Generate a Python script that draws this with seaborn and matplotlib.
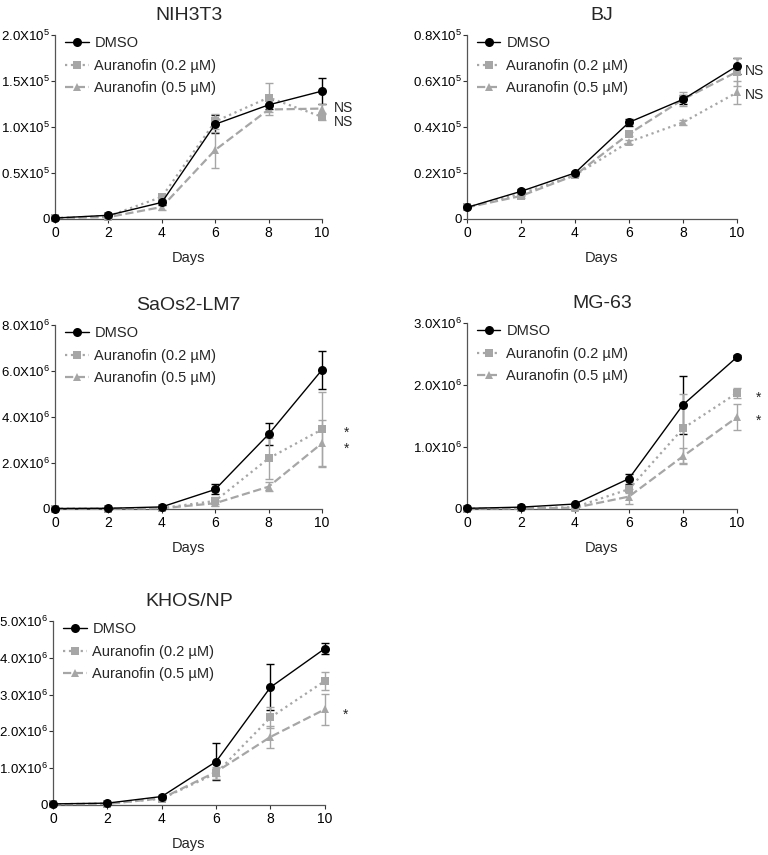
import numpy as np
import pandas as pd
import matplotlib
matplotlib.use("Agg")
import matplotlib.pyplot as plt
from matplotlib.ticker import FuncFormatter, FixedLocator
import seaborn as sns

sns.set_style("ticks")
plt.rcParams['font.family'] = ['Liberation Sans', 'DejaVu Sans']
plt.rcParams['mathtext.fontset'] = 'custom'
plt.rcParams['mathtext.rm'] = 'Liberation Sans'
plt.rcParams['mathtext.it'] = 'Liberation Sans:italic'

days = [0, 2, 4, 6, 8, 10]
treatments = ["DMSO", "Auranofin (0.2 µM)", "Auranofin (0.5 µM)"]

# NIH3T3 (x1e5)
nih_dmso = [0.01, 0.04, 0.18, 1.03, 1.24, 1.39]
nih_dmso_err = [0.005, 0.01, 0.03, 0.10, 0.05, 0.14]
nih_02 = [0.01, 0.03, 0.24, 1.06, 1.32, 1.11]
nih_02_err = [0.005, 0.01, 0.03, 0.08, 0.16, 0.03]
nih_05 = [0.01, 0.02, 0.13, 0.75, 1.19, 1.20]
nih_05_err = [0.005, 0.01, 0.03, 0.20, 0.06, 0.05]

# BJ (x1e5)
bj_dmso = [0.05, 0.12, 0.20, 0.42, 0.52, 0.665]
bj_dmso_err = [0.003, 0.01, 0.005, 0.015, 0.02, 0.035]
bj_02 = [0.05, 0.10, 0.19, 0.37, 0.52, 0.64]
bj_02_err = [0.003, 0.008, 0.005, 0.01, 0.03, 0.06]
bj_05 = [0.05, 0.11, 0.19, 0.335, 0.42, 0.55]
bj_05_err = [0.003, 0.008, 0.005, 0.01, 0.01, 0.05]

# SaOs2-LM7 (x1e6)
sa_dmso = [0.02, 0.03, 0.09, 0.85, 3.25, 6.05]
sa_dmso_err = [0.01, 0.01, 0.03, 0.22, 0.47, 0.83]
sa_02 = [0.01, 0.01, 0.04, 0.35, 2.20, 3.46]
sa_02_err = [0.01, 0.01, 0.02, 0.15, 0.90, 1.62]
sa_05 = [0.01, 0.01, 0.03, 0.25, 0.97, 2.86]
sa_05_err = [0.01, 0.01, 0.02, 0.12, 0.20, 1.00]

# MG-63 (x1e6)
mg_dmso = [0.01, 0.03, 0.08, 0.49, 1.68, 2.45]
mg_dmso_err = [0.005, 0.01, 0.01, 0.08, 0.47, 0.03]
mg_02 = [0.005, 0.01, 0.03, 0.32, 1.30, 1.87]
mg_02_err = [0.005, 0.01, 0.01, 0.06, 0.56, 0.08]
mg_05 = [0.005, 0.01, 0.02, 0.20, 0.85, 1.48]
mg_05_err = [0.005, 0.01, 0.01, 0.12, 0.13, 0.21]

# KHOS/NP (x1e6)
kh_dmso = [0.03, 0.05, 0.23, 1.18, 3.20, 4.25]
kh_dmso_err = [0.01, 0.02, 0.03, 0.50, 0.62, 0.16]
kh_02 = [0.02, 0.04, 0.17, 0.86, 2.38, 3.37]
kh_02_err = [0.01, 0.02, 0.03, 0.15, 0.28, 0.25]
kh_05 = [0.02, 0.03, 0.18, 0.90, 1.85, 2.60]
kh_05_err = [0.01, 0.02, 0.03, 0.12, 0.30, 0.42]

panels = [
    dict(title="NIH3T3", exp=5, ymax=2.0, ystep=0.5, rect=[0.0716, 0.7439, 0.3477, 0.2152],
         vals=[nih_dmso, nih_02, nih_05], errs=[nih_dmso_err, nih_02_err, nih_05_err],
         styles=['-', ':', '--'], notes=[("NS", 10.45, 1.21), ("NS", 10.45, 1.05)]),
    dict(title="BJ", exp=5, ymax=0.8, ystep=0.2, rect=[0.608, 0.7439, 0.3516, 0.2152],
         vals=[bj_dmso, bj_02, bj_05], errs=[bj_dmso_err, bj_02_err, bj_05_err],
         styles=['-', '--', ':'], notes=[("NS", 10.3, 0.643), ("NS", 10.3, 0.54)]),
    dict(title="SaOs2-LM7", exp=6, ymax=8.0, ystep=2.0, rect=[0.0716, 0.4047, 0.3477, 0.2152],
         vals=[sa_dmso, sa_02, sa_05], errs=[sa_dmso_err, sa_02_err, sa_05_err],
         styles=['-', ':', '--'], notes=[("*", 10.8, 3.3), ("*", 10.8, 2.6)]),
    dict(title="MG-63", exp=6, ymax=3.0, ystep=1.0, rect=[0.608, 0.4047, 0.3516, 0.2175],
         vals=[mg_dmso, mg_02, mg_05], errs=[mg_dmso_err, mg_02_err, mg_05_err],
         styles=['-', ':', '--'], notes=[("*", 10.7, 1.80), ("*", 10.7, 1.42)]),
    dict(title="KHOS/NP", exp=6, ymax=5.0, ystep=1.0, rect=[0.069, 0.0585, 0.354, 0.2152],
         vals=[kh_dmso, kh_02, kh_05], errs=[kh_dmso_err, kh_02_err, kh_05_err],
         styles=['-', ':', '--'], notes=[("*", 10.66, 2.45)]),
]

colors = ["black", "#a6a6a6", "#a6a6a6"]
markers = ["o", "s", "^"]
legend_styles = ['-', ':', '--']

fig = plt.figure(figsize=(7.68, 8.55), dpi=100)

for p in panels:
    ax = fig.add_axes(p["rect"])
    scale = 10 ** p["exp"]
    for i, name in enumerate(treatments):
        v = np.array(p["vals"][i]) * scale
        e = np.array(p["errs"][i]) * scale
        ax.errorbar(days, v, yerr=e, fmt='none', ecolor=colors[i], elinewidth=1.0,
                    capsize=3, capthick=1.0, zorder=2, clip_on=False)
        df = pd.DataFrame({"Days": days, "Cells": v})
        sns.lineplot(data=df, x="Days", y="Cells", ax=ax, color=colors[i],
                     marker=markers[i], markersize=6.5 if i == 0 else 6,
                     markeredgewidth=0, linestyle=p["styles"][i],
                     linewidth=1.0 if i == 0 else 1.6, clip_on=False,
                     zorder=5 - i, legend=False)
    handles = [plt.Line2D([], [], color=colors[i], marker=markers[i], markersize=6.5 if i == 0 else 6,
                          markeredgewidth=0, linestyle=legend_styles[i],
                          linewidth=1.0 if i == 0 else 1.6) for i in range(3)]
    ax.legend(handles, treatments, loc="upper left", bbox_to_anchor=(0.0, 1.05),
              frameon=False, fontsize=10.5, handlelength=1.6, handletextpad=0.4,
              labelspacing=0.6, borderaxespad=0.3)
    ax.set_xlim(0, 10)
    ax.set_ylim(0, p["ymax"] * scale)
    ax.xaxis.set_major_locator(FixedLocator(days))
    yt = np.arange(0, p["ymax"] + 1e-9, p["ystep"]) * scale
    ax.yaxis.set_major_locator(FixedLocator(yt))
    ex = p["exp"]
    ax.yaxis.set_major_formatter(FuncFormatter(
        lambda val, pos, ex=ex: "0" if abs(val) < 1e-12 else f"{val / 10**ex:.1f}X10$^{{{ex}}}$"))
    ax.tick_params(axis='y', labelsize=9.5, length=3, width=0.8, pad=1, colors='#333333')
    ax.tick_params(axis='x', labelsize=10, length=3, width=0.8, pad=2, colors='#333333')
    for lab in ax.get_yticklabels() + ax.get_xticklabels():
        lab.set_color('black')
    sns.despine(ax=ax)
    for s in ["left", "bottom"]:
        ax.spines[s].set_color('#555555')
        ax.spines[s].set_linewidth(0.9)
    ax.set_xlabel("Days", fontsize=10.5, labelpad=8)
    ax.set_ylabel("")
    ax.set_title(p["title"], fontsize=14, pad=11)
    for txt, x, y in p["notes"]:
        ax.text(x, y * scale, txt, fontsize=10, ha="left", va="center", clip_on=False)

fig.savefig("out.png", dpi=100)
